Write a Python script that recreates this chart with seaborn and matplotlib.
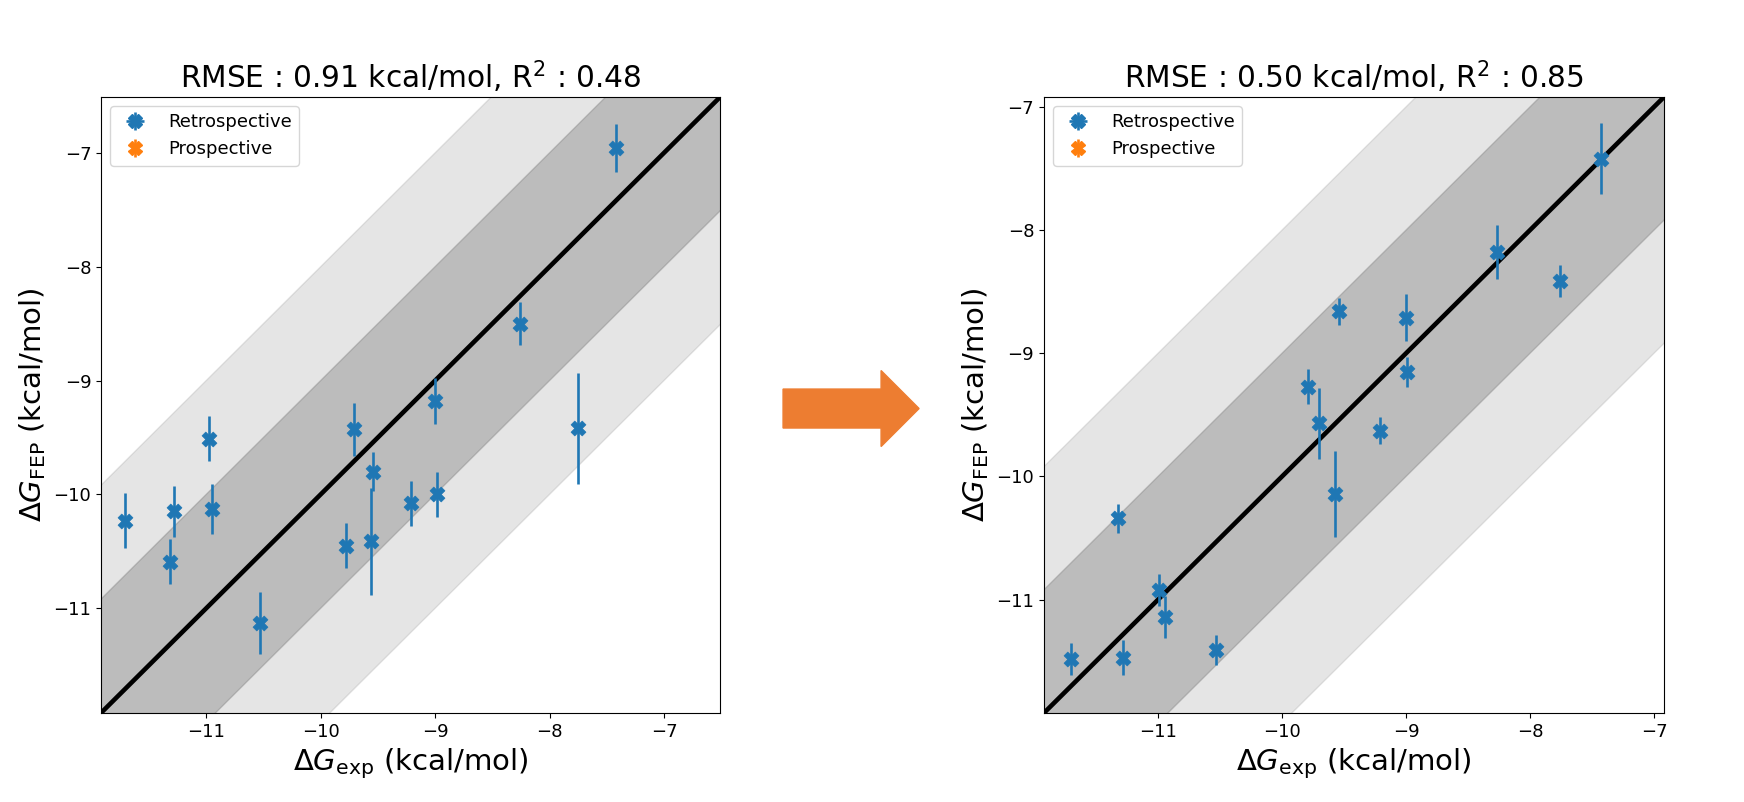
import numpy as np
import pandas as pd
import matplotlib.pyplot as plt
import seaborn as sns
from matplotlib.patches import FancyArrow

# =======================================
#     FEP vs experiment, before / after
# =======================================

dg_exp = [-11.71, -11.28, -11.32, -10.98, -10.95, -10.53, -9.78, -9.71,
          -9.56, -9.54, -9.21, -9.00, -8.98, -8.26, -7.75, -7.42]

# sebelum
dg_fep_before = [-10.23, -10.15, -10.59, -9.51, -10.13, -11.13, -10.45, -9.43,
                 -10.41, -9.80, -10.08, -9.18, -10.00, -8.50, -9.42, -6.96]
err_before = [0.24, 0.22, 0.20, 0.20, 0.22, 0.27, 0.20, 0.23,
              0.47, 0.17, 0.20, 0.20, 0.20, 0.19, 0.49, 0.21]

# sesudah
dg_fep_after = [-11.48, -11.47, -10.34, -10.92, -11.14, -11.41, -9.27, -9.57,
                -10.14, -8.66, -9.63, -8.71, -9.15, -8.18, -8.41, -7.42]
err_after = [0.13, 0.14, 0.12, 0.13, 0.17, 0.12, 0.14, 0.29,
             0.35, 0.11, 0.11, 0.19, 0.12, 0.22, 0.13, 0.29]
x_after = [-11.70, -11.28, -11.32, -10.99, -10.94, -10.53, -9.79, -9.70,
           -9.57, -9.54, -9.21, -9.00, -8.99, -8.27, -7.76, -7.43]

titles = [r'RMSE : 0.91 kcal/mol, R$^2$ : 0.48',
          r'RMSE : 0.50 kcal/mol, R$^2$ : 0.85']
limits = [(-11.92, -6.51), (-11.92, -6.92)]
ticks = [-11, -10, -9, -8, -7]

plt.rcParams['font.family'] = ['DejaVu Sans']
plt.rcParams['font.size'] = 13

fig = plt.figure(figsize=(17.44, 8.02), dpi=100)
ax1 = fig.add_axes([0.0579, 0.111, 0.355, 0.768])
ax2 = fig.add_axes([0.5986, 0.111, 0.3555, 0.768])

panels = [
    (ax1, pd.DataFrame({'exp': dg_exp, 'fep': dg_fep_before, 'err': err_before})),
    (ax2, pd.DataFrame({'exp': x_after, 'fep': dg_fep_after, 'err': err_after})),
]

for i, (ax, df) in enumerate(panels):
    lo, hi = limits[i]
    xx = np.array([lo - 1, hi + 1])

    # pita +-2 dan +-1 kcal/mol
    ax.fill_between(xx, xx - 2, xx + 2, color='gray', alpha=0.2, zorder=0)
    ax.fill_between(xx, xx - 1, xx + 1, color='gray', alpha=0.4, zorder=1)
    sns.lineplot(x=xx, y=xx, color='black', linewidth=3.3, ax=ax, zorder=2)

    ax.errorbar(df['exp'], df['fep'], yerr=df['err'], fmt='none',
                ecolor='C0', elinewidth=1.9, zorder=3)
    sns.scatterplot(data=df, x='exp', y='fep', marker='X', s=115, color='C0',
                    edgecolor='C0', linewidth=0.5, legend=False, ax=ax, zorder=4)

    # handle legenda
    h1 = ax.errorbar(np.array([]), np.array([]), xerr=np.array([]), yerr=np.array([]),
                     fmt='X', color='C0', ms=10, elinewidth=1.9, label='Retrospective')
    h2 = ax.errorbar(np.array([]), np.array([]), yerr=np.array([]),
                     fmt='X', color='C1', ms=10, elinewidth=1.9, label='Prospective')
    ax.legend(handles=[h1, h2], loc='upper left', fontsize=13)

    ax.set_xlim(lo, hi)
    ax.set_ylim(lo, hi)
    ax.set_xticks(ticks)
    ax.set_yticks(ticks)
    ax.tick_params(labelsize=13)
    ax.set_title(titles[i], fontsize=21.3)
    ax.set_xlabel(r'$\Delta G_{\mathrm{exp}}$ (kcal/mol)', fontsize=21)
    ax.set_ylabel(r'$\Delta G_{\mathrm{FEP}}$ (kcal/mol)', fontsize=21)

# panah oranye di tengah
arrow = FancyArrow(0.449, 0.4906, 0.078, 0, width=0.0486, head_width=0.0948,
                   head_length=0.0218, length_includes_head=True,
                   color='#ED7D31', transform=fig.transFigure)
fig.patches.append(arrow)

plt.savefig('out.png')
